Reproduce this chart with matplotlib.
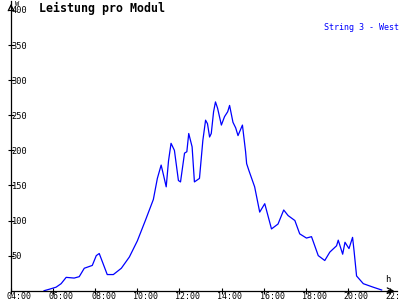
import matplotlib
matplotlib.use("Agg")
import matplotlib.pyplot as plt
import matplotlib.transforms as mtransforms

# time of day (hours) and power per module (W)
hours = [5.57, 5.81, 6.14, 6.38, 6.62, 7.0, 7.24, 7.48, 7.86, 8.05, 8.19, 8.38,
         8.57, 8.86, 9.24, 9.62, 10.0, 10.38, 10.76, 10.95, 11.13, 11.24, 11.37,
         11.48, 11.6, 11.76, 11.95, 12.05, 12.24, 12.35, 12.44, 12.6, 12.71,
         12.95, 13.11, 13.24, 13.33, 13.43, 13.51, 13.62, 13.71, 13.81, 13.99,
         14.14, 14.29, 14.38, 14.54, 14.67, 14.78, 14.99, 15.14, 15.19, 15.3,
         15.57, 15.81, 16.05, 16.37, 16.68, 16.95, 17.16, 17.48, 17.71, 18.03,
         18.27, 18.59, 18.9, 19.14, 19.46, 19.54, 19.75, 19.86, 20.05, 20.22,
         20.29, 20.41, 20.73, 21.2, 21.6]
watts = [0, 2, 5, 10, 19, 18, 20, 32, 36, 50, 53, 38,
         23, 23, 32, 48, 71, 100, 130, 160, 179, 165, 148,
         185, 210, 200, 157, 155, 196, 198, 224, 205, 155,
         160, 214, 243, 238, 219, 224, 255, 269, 260, 236,
         248, 255, 264, 240, 232, 221, 236, 198, 181, 171,
         148, 112, 124, 88, 95, 115, 107, 100, 81, 75,
         77, 50, 43, 55, 64, 72, 52, 69, 60, 76,
         57, 21, 10, 5, 1]

x_ticks = [4, 6, 8, 10, 12, 14, 16, 18, 20, 22]
x_labels = ["%02d:00" % h for h in x_ticks]
y_ticks = [50, 100, 150, 200, 250, 300, 350, 400]

BLUE = "#0000ff"
MONO = "DejaVu Sans Mono"

fig = plt.figure(figsize=(4, 3), dpi=100)
ax = fig.add_axes([0.0275, 0.031, 0.965, 0.9657])

ax.plot(hours, watts, color=BLUE, lw=0.9)

ax.set_xlim(4, 22.33)
ax.set_ylim(0, 412.8)

for side in ("top", "right"):
    ax.spines[side].set_visible(False)
for side in ("left", "bottom"):
    ax.spines[side].set_linewidth(0.9)

ax.set_xticks(x_ticks)
ax.set_xticklabels(x_labels, fontfamily=MONO, fontsize=6)
ax.set_yticks(y_ticks)
ax.set_yticklabels([str(v) for v in y_ticks], fontfamily=MONO, fontsize=6.2)
ax.tick_params(axis="x", direction="inout", length=4.5, width=0.8, pad=-1.2)
ax.tick_params(axis="y", direction="inout", length=4, width=0.8, pad=-2.5)

# x labels start just left of their tick, y labels sit right of the axis
offset = mtransforms.ScaledTranslation(-3 / 72, 0, fig.dpi_scale_trans)
for lab in ax.get_xticklabels():
    lab.set_ha("left")
    lab.set_transform(lab.get_transform() + offset)
for lab in ax.get_yticklabels():
    lab.set_ha("left")

# open arrow heads on the axes
ax.annotate("", xy=(0, 1.0), xytext=(0, 0.97), xycoords="axes fraction",
            arrowprops=dict(arrowstyle="->", lw=0.9, color="black"))
ax.annotate("", xy=(1.0, 0), xytext=(0.97, 0), xycoords="axes fraction",
            arrowprops=dict(arrowstyle="->", lw=0.9, color="black"))

fig.text(15 / 400, 1 - 1 / 300, "W", fontfamily=MONO, fontsize=5,
         ha="left", va="top")
fig.text(385 / 400, 1 - 284 / 300, "h", fontfamily=MONO, fontsize=6.5,
         ha="left", va="bottom")
fig.text(39 / 400, 1 - 8 / 300, "Leistung pro Modul", fontfamily=MONO,
         fontsize=8.4, fontweight="bold", ha="left", va="center")
fig.text(399 / 400, 1 - 28 / 300, "String 3 - West", fontfamily=MONO,
         fontsize=6, color=BLUE, ha="right", va="center")

fig.savefig("out.png", dpi=100)
